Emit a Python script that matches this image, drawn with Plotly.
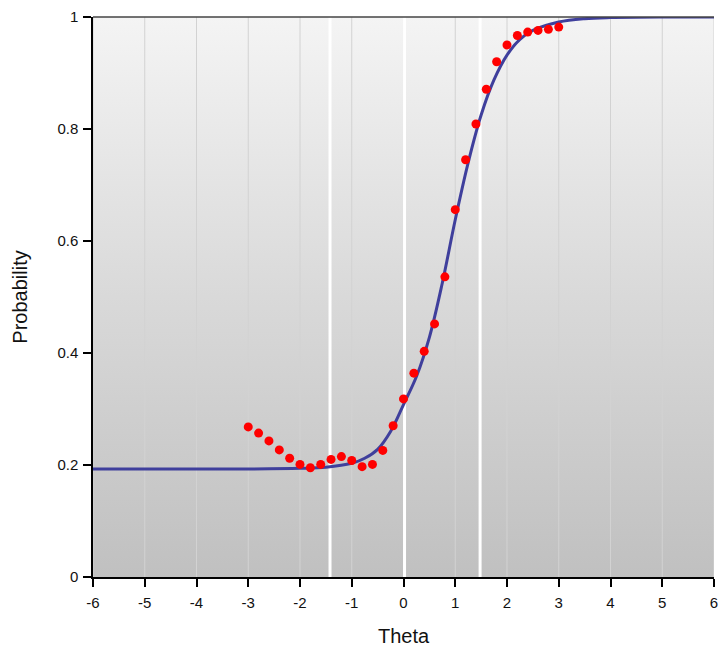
import plotly.graph_objects as go

# Empirical proportions (red dots)
theta_obs = [-3.0, -2.8, -2.6, -2.4, -2.2, -2.0, -1.8, -1.6, -1.4, -1.2, -1.0,
             -0.8, -0.6, -0.4, -0.2, 0.0, 0.2, 0.4, 0.6, 0.8, 1.0,
             1.2, 1.4, 1.6, 1.8, 2.0, 2.2, 2.4, 2.6, 2.8, 3.0]
prob_obs = [0.268, 0.257, 0.243, 0.227, 0.212, 0.201, 0.195, 0.201, 0.210, 0.215, 0.208,
            0.197, 0.201, 0.226, 0.270, 0.318, 0.364, 0.403, 0.452, 0.536, 0.656,
            0.745, 0.809, 0.871, 0.920, 0.950, 0.967, 0.973, 0.976, 0.978, 0.982]

# Model curve
theta_curve = [-6.0, -4.0, -3.0, -2.0, -1.5, -1.0, -0.75, -0.5, -0.25, 0.0, 0.25, 0.5,
               0.75, 1.0, 1.25, 1.5, 1.75, 2.0, 2.25, 2.5, 3.0, 3.5, 4.0, 5.0, 6.0]
prob_curve = [0.193, 0.193, 0.193, 0.194, 0.196, 0.203, 0.212, 0.228, 0.260, 0.308, 0.358, 0.428,
              0.525, 0.638, 0.740, 0.825, 0.888, 0.932, 0.960, 0.976, 0.991, 0.997, 0.999, 1.0, 1.0]

# White vertical marker lines
marker_theta = [-1.42, 0.02, 1.48]

x_ticks = [-6, -5, -4, -3, -2, -1, 0, 1, 2, 3, 4, 5, 6]
x_tick_text = ["-6", "-5", "-4", "-3", "-2", "-1", "0", "1", "2", "3", "4", "5", "6"]
y_ticks = [0, 0.2, 0.4, 0.6, 0.8, 1]
y_tick_text = ["0", "0.2", "0.4", "0.6", "0.8", "1"]

fig = go.Figure()

# gradient background
fig.add_trace(go.Scatter(
    x=[-6, 6, 6, -6, -6], y=[0, 0, 1, 1, 0], mode="lines", fill="toself",
    line=dict(width=0), hoverinfo="skip", showlegend=False,
    fillgradient=dict(type="vertical",
                      colorscale=[[0, "#c0c0c0"], [0.5, "#d9d9d9"], [1, "#f4f4f4"]]),
))

def vlines(vals):
    xs, ys = [], []
    for t in vals:
        xs += [t, t, None]
        ys += [0, 1, None]
    return xs, ys

gx, gy = vlines(x_ticks)
fig.add_trace(go.Scatter(x=gx, y=gy, mode="lines", line=dict(color="#d2d2d2", width=1),
                         hoverinfo="skip", showlegend=False))
mx, my = vlines(marker_theta)
fig.add_trace(go.Scatter(x=mx, y=my, mode="lines", line=dict(color="#ffffff", width=3),
                         hoverinfo="skip", showlegend=False))

fig.add_trace(go.Scatter(
    x=theta_curve, y=prob_curve, mode="lines", line_shape="spline",
    line=dict(color="#3f3f9c", width=3), showlegend=False,
))
fig.add_trace(go.Scatter(
    x=theta_obs, y=prob_obs, mode="markers",
    marker=dict(color="#ff0000", size=9, line=dict(width=0)), showlegend=False,
))

fig.update_layout(
    width=723, height=655,
    margin=dict(l=93, r=5, t=17, b=78),
    paper_bgcolor="#ffffff", plot_bgcolor="rgba(0,0,0,0)",
    font=dict(family="Liberation Sans, Arial, sans-serif", size=15, color="#111111"),
    shapes=[dict(type="line", xref="paper", yref="paper", x0=0, x1=1, y0=1, y1=1,
                 line=dict(color="#444444", width=1.5))],
    xaxis=dict(range=[-6, 6], tickvals=x_ticks, ticktext=x_tick_text, showgrid=False,
               zeroline=False, showline=True, linecolor="#000000", linewidth=1.5,
               ticks="outside", ticklen=8, tickcolor="#000000", tickwidth=1.5,
               ticklabelstandoff=3,
               title=dict(text="Theta", standoff=19, font=dict(size=20))),
    yaxis=dict(range=[0, 1], tickvals=y_ticks, ticktext=y_tick_text, showgrid=False,
               zeroline=False, showline=True, linecolor="#000000", linewidth=1.5,
               ticks="outside", ticklen=8, tickcolor="#000000", tickwidth=1.5,
               ticklabelstandoff=2,
               title=dict(text="Probability", standoff=24, font=dict(size=20))),
)

fig.write_html("out.html", config={"displayModeBar": False},
               post_script="document.body.style.margin='0px';")
